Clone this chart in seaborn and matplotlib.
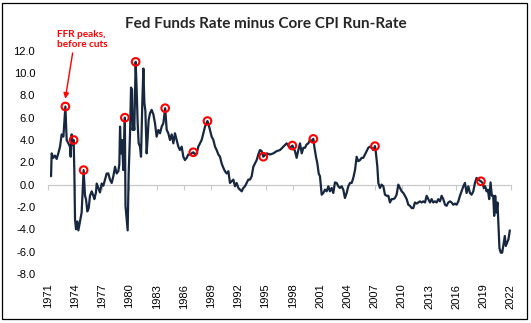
import numpy as np
import pandas as pd
import matplotlib
matplotlib.use("Agg")
import matplotlib.pyplot as plt
import seaborn as sns
from matplotlib.patches import Rectangle

years = [
    1971.37, 1971.44, 1971.62, 1971.81, 1971.99, 1972.17, 1972.36, 1972.54, 1972.73, 1972.95,
    1973.09, 1973.28, 1973.46, 1973.53, 1973.64, 1973.75, 1973.86, 1973.94, 1974.01, 1974.12,
    1974.27, 1974.38, 1974.56, 1974.74, 1974.85, 1974.96, 1975.11, 1975.22, 1975.37, 1975.52,
    1975.66, 1975.85, 1976.03, 1976.14, 1976.32, 1976.40, 1976.58, 1976.76, 1976.95, 1977.13,
    1977.31, 1977.50, 1977.68, 1977.86, 1978.05, 1978.23, 1978.42, 1978.60, 1978.78, 1978.89,
    1978.97, 1979.08, 1979.19, 1979.33, 1979.50, 1979.57, 1979.70, 1979.81, 1979.92, 1980.07,
    1980.18, 1980.29, 1980.36, 1980.47, 1980.54, 1980.69, 1980.80, 1980.91, 1981.02, 1981.17,
    1981.28, 1981.43, 1981.54, 1981.65, 1981.76, 1981.90, 1982.01, 1982.12, 1982.27, 1982.45,
    1982.64, 1982.82, 1983.00, 1983.19, 1983.37, 1983.56, 1983.74, 1983.94, 1984.11, 1984.29,
    1984.47, 1984.66, 1984.84, 1985.02, 1985.21, 1985.39, 1985.57, 1985.76, 1985.94, 1986.12,
    1986.31, 1986.49, 1986.68, 1986.86, 1987.04, 1987.23, 1987.41, 1987.59, 1987.78, 1987.96,
    1988.14, 1988.33, 1988.60, 1988.75, 1988.90, 1989.06, 1989.25, 1989.43, 1989.61, 1989.80,
    1989.98, 1990.16, 1990.35, 1990.53, 1990.71, 1990.90, 1991.08, 1991.26, 1991.45, 1991.63,
    1991.81, 1992.00, 1992.18, 1992.37, 1992.55, 1992.73, 1992.92, 1993.10, 1993.28, 1993.47,
    1993.65, 1993.83, 1994.02, 1994.20, 1994.38, 1994.57, 1994.75, 1995.12, 1995.49, 1995.85,
    1996.22, 1996.59, 1996.95, 1997.32, 1997.69, 1997.95, 1998.24, 1998.42, 1998.61, 1998.79,
    1998.98, 1999.16, 1999.34, 1999.52, 1999.71, 1999.89, 2000.07, 2000.26, 2000.37, 2000.55,
    2000.70, 2000.85, 2000.99, 2001.10, 2001.18, 2001.36, 2001.54, 2001.73, 2001.91, 2002.09,
    2002.28, 2002.46, 2002.64, 2002.83, 2003.01, 2003.19, 2003.38, 2003.56, 2003.74, 2003.93,
    2004.11, 2004.30, 2004.48, 2004.66, 2004.85, 2005.03, 2005.21, 2005.40, 2005.58, 2005.76,
    2005.95, 2006.13, 2006.31, 2006.50, 2006.68, 2006.87, 2007.05, 2007.16, 2007.31, 2007.42,
    2007.60, 2007.78, 2007.97, 2008.15, 2008.33, 2008.52, 2008.70, 2008.88, 2009.07, 2009.25,
    2009.43, 2009.62, 2009.80, 2009.99, 2010.17, 2010.35, 2010.54, 2010.72, 2010.90, 2011.09,
    2011.27, 2011.45, 2011.64, 2011.82, 2012.00, 2012.19, 2012.37, 2012.56, 2012.74, 2012.92,
    2013.11, 2013.29, 2013.47, 2013.66, 2013.84, 2014.02, 2014.21, 2014.39, 2014.57, 2014.76,
    2014.94, 2015.12, 2015.31, 2015.49, 2015.68, 2015.86, 2016.04, 2016.23, 2016.41, 2016.59,
    2016.78, 2016.96, 2017.14, 2017.33, 2017.51, 2017.69, 2017.88, 2018.06, 2018.24, 2018.43,
    2018.72, 2018.90, 2019.04, 2019.19, 2019.34, 2019.48, 2019.63, 2019.78, 2019.92, 2020.07,
    2020.18, 2020.29, 2020.43, 2020.54, 2020.65, 2020.76, 2020.91, 2021.06, 2021.20, 2021.35,
    2021.46, 2021.61, 2021.75, 2021.90,
]

values = [
    0.75, 2.8, 2.4, 2.6, 2.3, 2.8, 3.4, 4.5, 4.3, 7.0,
    4.0, 3.7, 3.4, 2.5, 4.5, 3.6, 4.0, 1.0, -3.1, -4.0,
    -3.3, -4.1, -3.3, -2.5, -0.7, 1.3, -1.0, -1.3, -2.4, -2.1,
    -1.0, -0.6, -1.0, -1.3, -0.7, 0.1, -0.3, -0.7, 0.1, -0.1,
    0.45, 1.0, 1.0, 0.45, 0.15, 0.75, 1.6, 1.0, 1.2, 1.8,
    5.2, 2.8, 4.0, 1.3, 6.0, -1.9, -3.1, -4.1, 1.0, 4.6,
    8.7, 8.5, 4.9, 5.5, 4.9, 11.0, 8.5, 5.5, 3.7, 3.4,
    2.5, 7.6, 10.4, 7.3, 6.6, 2.8, 4.2, 5.8, 6.4, 6.7,
    6.3, 5.5, 4.3, 4.9, 4.6, 5.2, 5.5, 6.85, 4.9, 4.6,
    4.0, 4.5, 3.7, 4.6, 4.0, 3.4, 3.1, 3.4, 2.5, 2.2,
    2.4, 2.7, 2.7, 2.8, 2.9, 2.7, 2.8, 3.4, 3.7, 4.0,
    4.6, 5.2, 5.7, 5.3, 4.8, 4.3, 4.0, 3.4, 3.1, 2.7,
    2.5, 1.9, 1.5, 1.2, 1.0, 1.2, 0.15, 0.3, 0.45, -0.15,
    0.15, -0.3, -0.45, -0.6, -0.3, -0.15, 0.15, 0.45, 0.45, 0.75,
    1.6, 1.9, 2.2, 2.7, 3.1, 3.0, 2.5, 2.8, 2.7, 2.8,
    3.0, 3.1, 3.4, 3.7, 3.3, 3.5, 3.0, 2.4, 3.1, 3.7,
    2.8, 3.3, 3.3, 3.6, 3.7, 4.0, 3.9, 4.1, 3.4, 2.5,
    1.9, 1.0, 0.75, -0.15, -0.9, -0.75, -0.45, -0.6, -0.15, -0.6,
    -0.3, -0.75, 0.2, 0.15, -0.15, -0.3, -0.15, -0.45, -1.2, -0.75,
    -0.15, 0.15, 0.15, 0.6, 1.3, 2.5, 2.1, 2.2, 2.4, 2.4,
    2.7, 3.0, 3.3, 3.4, 3.3, 3.1, 3.45, 2.8, 1.6, 0.15,
    -0.3, 0.0, -0.15, -0.9, -1.0, -1.0, -1.6, -1.3, -1.3, -1.2,
    -0.9, 0.0, -0.3, -0.6, -0.75, -1.0, -1.3, -1.8, -1.9, -2.1,
    -2.1, -1.6, -1.7, -1.6, -1.5, -1.6, -1.5, -1.6, -1.0, -1.3,
    -1.6, -1.3, -1.6, -1.5, -1.6, -1.3, -1.5, -1.0, -1.3, -1.8,
    -1.9, -1.6, -1.5, -1.6, -1.8, -1.7, -1.8, -1.5, -1.0, -0.6,
    -0.15, 0.15, -0.75, -0.15, -0.75, -0.9, -0.6, 0.15, 0.6, 0.45,
    0.3, 0.15, -0.3, -0.15, -0.6, -0.45, -1.3, 0.2, -1.0, -1.0,
    -2.8, -1.0, -2.5, -1.6, -3.7, -5.7, -6.1, -6.1, -5.4, -4.6,
    -5.5, -5.2, -4.9, -4.1,
]

peak_years = [1972.95, 1973.86, 1974.96, 1979.50, 1980.69, 1983.94, 1987.04,
              1988.60, 1994.75, 1997.95, 2000.26, 2007.05, 2018.72]

tick_years = list(range(1971, 2023, 3))
y_ticks = [-8, -6, -4, -2, 0, 2, 4, 6, 8, 10, 12]

title = "Fed Funds Rate minus Core CPI Run-Rate"
note = "FFR peaks,\nbefore cuts"

LINE = "#17273f"
RED = "#ff0000"

sns.set_theme(style="white")
plt.rcParams["font.family"] = ["Liberation Sans", "DejaVu Sans"]

df = pd.DataFrame({"year": years, "value": values})
peak_vals = np.interp(peak_years, years, values)
pk = pd.DataFrame({"year": peak_years, "value": peak_vals})

fig = plt.figure(figsize=(5.31, 3.23), dpi=100)
ax = fig.add_axes([0.0898, 0.152, 0.872, 0.691])

sns.lineplot(data=df, x="year", y="value", ax=ax, color=LINE, lw=1.6,
             estimator=None, sort=False, zorder=3)
sns.scatterplot(data=pk, x="year", y="value", ax=ax, marker="o", s=30,
                facecolor="none", edgecolor=RED, linewidth=1.5, zorder=4)

ymin, ymax = -8, 12
ax.set_ylim(ymin, ymax)
ax.set_xlim(1971, 2022)
ax.set_xlabel("")
ax.set_ylabel("")
for s in ax.spines.values():
    s.set_visible(False)

ax.set_yticks(y_ticks)
ax.set_yticklabels([f"{v:.1f}" for v in y_ticks])
ax.tick_params(axis="y", length=0, pad=9, labelsize=8, labelcolor="#000000")

ax.set_xticks(tick_years)
ax.set_xticklabels([str(y) for y in tick_years], rotation=90)
ax.tick_params(axis="x", length=0, pad=7, labelsize=8, labelcolor="#000000")

# zero axis line with tick marks
sec = ax.secondary_xaxis((0 - ymin) / (ymax - ymin))
sec.set_xticks(tick_years)
sec.set_xticklabels([])
sec.tick_params(axis="x", direction="out", length=3.5, width=0.8, color="#c8c8c8")
sec.spines["bottom"].set_color("#c8c8c8")
sec.spines["bottom"].set_linewidth(0.9)
for k in ("top", "left", "right"):
    if k in sec.spines:
        sec.spines[k].set_visible(False)

ax.annotate("", xy=(1972.94, 7.7), xytext=(1973.75, 11.8),
            arrowprops=dict(arrowstyle="-|>", color=RED, lw=1.0,
                            mutation_scale=8, shrinkA=0, shrinkB=0),
            annotation_clip=False)
ax.text(1971.99, 13.0, note, ha="left", va="center", color=RED,
        fontsize=7.2, fontweight="bold", family=["Lato", "DejaVu Sans"],
        linespacing=1.25, clip_on=False)

fig.text(0.5, 0.927, title, ha="center", va="center", fontsize=11,
         fontweight="bold", family=["Lato", "DejaVu Sans"])

fig.patches.append(Rectangle((0.0047, 0.011), 0.9887, 0.981,
                             transform=fig.transFigure, fill=False,
                             edgecolor="#000000", lw=0.9))

fig.savefig("out.png", dpi=100)
